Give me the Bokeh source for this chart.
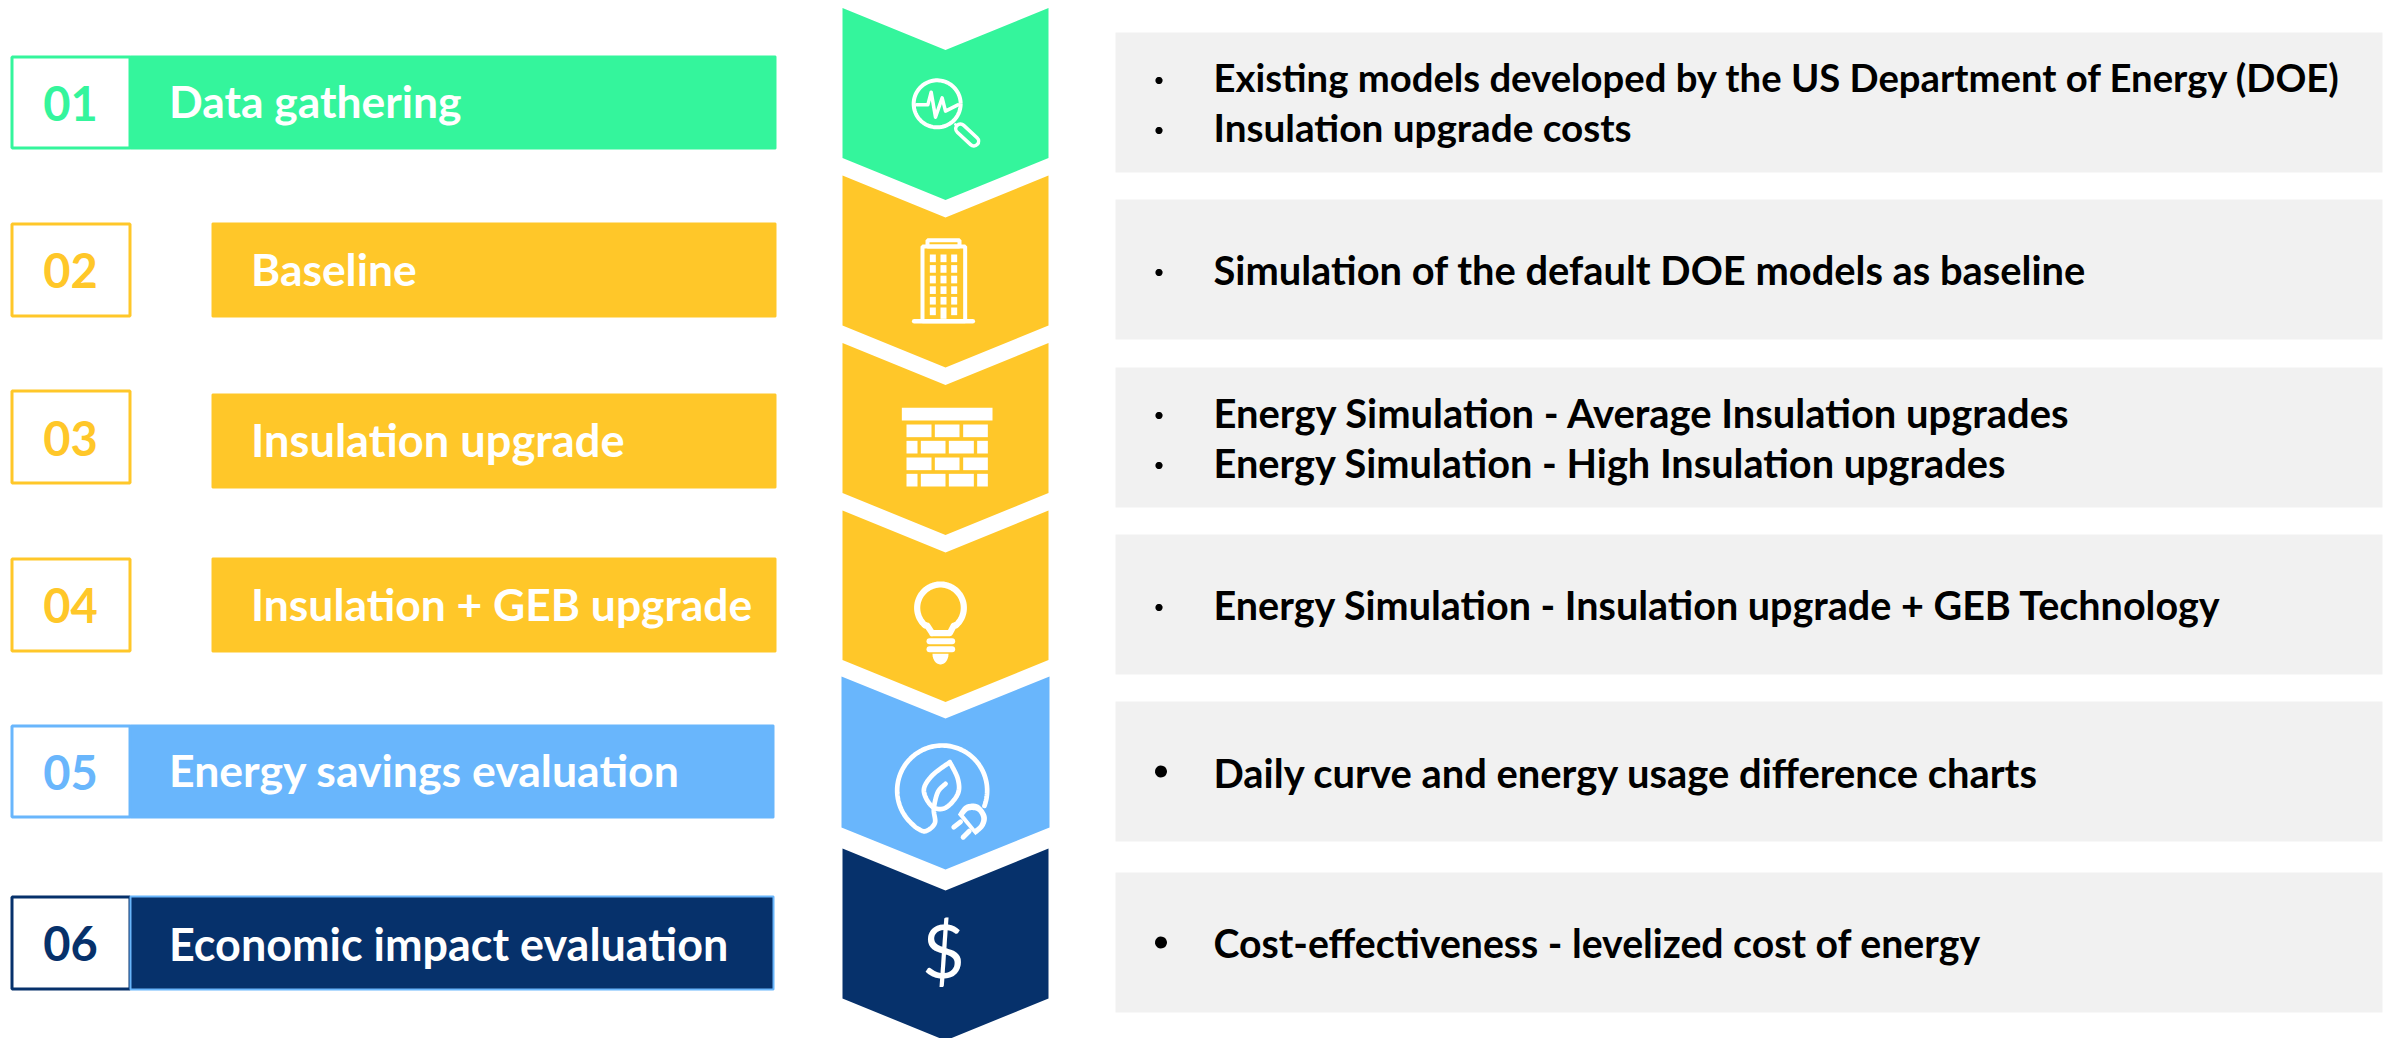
from bokeh.plotting import figure
from bokeh.embed import file_html
from bokeh.resources import INLINE
from bokeh.core.properties import value
from bokeh.models import Range1d
import numpy as np

# ---- content ----
step_numbers = ["01", "02", "03", "04", "05", "06"]
step_titles = ["Data gathering", "Baseline", "Insulation upgrade",
               "Insulation + GEB upgrade", "Energy savings evaluation",
               "Economic impact evaluation"]
step_details = [
    ["Existing models developed by the US Department of Energy (DOE)", "Insulation upgrade costs"],
    ["Simulation of the default DOE models as baseline"],
    ["Energy Simulation - Average Insulation upgrades", "Energy Simulation - High Insulation upgrades"],
    ["Energy Simulation - Insulation upgrade + GEB Technology"],
    ["Daily curve and energy usage difference charts"],
    ["Cost-effectiveness - levelized cost of energy"],
]

# ---- styles ----
GREEN, YELLOW, BLUE, NAVY, GREY = "#34F59C", "#FFC729", "#69B6FC", "#06316B", "#F1F1F1"
step_colors = [GREEN, YELLOW, YELLOW, YELLOW, BLUE, NAVY]
FONT = value("Lato")
W, H = 2397, 1038
BASE_FIX = 0.39
title_sizes = [44.4, 44.4, 45.2, 44.4, 44.6, 44.9]
detail_sizes = [[38.25, 38.7], [39.85], [39.9, 39.7], [39.5], [39.9], [39.2]]

p = figure(width=W, height=H, output_backend="svg", toolbar_location=None,
           x_range=Range1d(0, W), y_range=Range1d(H, 0),
           min_border=0, outline_line_color=None, background_fill_color="white")
p.axis.visible = False
p.grid.visible = False

def txt(x, y, s, size, color, style="bold", align="left"):
    p.text([x], [y - BASE_FIX * size], text=[s], text_font=FONT, text_font_size=f"{size}px",
           text_color=color, text_font_style=style, text_baseline="alphabetic", text_align=align)

# ---- left column ----
box_tops = [55, 222, 389, 557, 724, 895]
box_bottoms = [149, 317, 484, 652, 818, 990]
bar_tops = [55, 222, 393, 557, 724, 895]
bar_bottoms = [149, 317, 488, 652, 818, 990]
bar_lefts = [130, 212, 212, 212, 130, 130]
bar_rights = [775, 775, 775, 775, 773, 773]
title_x = [168.5, 250.5, 250.5, 250.5, 168.5, 168.5]
title_base = [117, 285, 457, 620, 786, 961]
num_base = [121.5, 288.5, 456.5, 623.5, 790.5, 961.5]
for i, n in enumerate(step_numbers):
    c = step_colors[i]
    p.quad(left=[11.5], right=[129.5], top=[box_tops[i] + 1.5], bottom=[box_bottoms[i] - 1.5],
           fill_color="white", line_color=c, line_width=3)
    lc = BLUE if i == 5 else c
    p.quad(left=[bar_lefts[i]], right=[bar_rights[i]], top=[bar_tops[i] + 1], bottom=[bar_bottoms[i] - 1],
           fill_color=c, line_color=lc, line_width=2)
    txt(70, num_base[i], n, 47, c, align="center")
    txt(title_x[i], title_base[i], step_titles[i], title_sizes[i], "white")

# ---- chevrons ----
chev_left = [842, 842, 842, 842, 841, 842]
chev_right = [1048, 1048, 1048, 1048, 1049, 1048]
chev_top = [7.5, 175, 342.5, 510, 676, 848]
chev_side = [157.5, 325, 492.5, 659.5, 827, 998]
CX = 945
for i in range(6):
    l, r, t, s = chev_left[i], chev_right[i], chev_top[i], chev_side[i]
    d = 42
    p.patch([l, CX, r, r, CX, l], [t, t + d, t, s, s + d, s], color=step_colors[i], line_width=0)

# ---- icons (white line work) ----
WH = "white"
def zx(v): return 820 + np.asarray(v, float) / 3
def zy(v, off): return off + np.asarray(v, float) / 3
def spline(pts, n=16):
    pts = np.asarray(pts, float)
    P = np.vstack([pts[0], pts, pts[-1]])
    out = []
    for k in range(1, len(P) - 2):
        for t in np.linspace(0, 1, n, endpoint=False):
            a = 2 * P[k] + (P[k + 1] - P[k - 1]) * t
            b = (2 * P[k - 1] - 5 * P[k] + 4 * P[k + 1] - P[k + 2]) * t * t
            c = (-P[k - 1] + 3 * P[k] - 3 * P[k + 1] + P[k + 2]) * t ** 3
            out.append(0.5 * (a + b + c))
    out.append(P[-2])
    return np.array(out)
def stroke(xs, ys, w, color=WH):
    p.line(xs, ys, line_color=color, line_width=w, line_cap="round", line_join="round")
def ring(cx, cy, r, w, color=WH):
    a = np.linspace(0, 2 * np.pi, 90)
    p.line(cx + r * np.cos(a), cy + r * np.sin(a), line_color=color, line_width=w)
def rect(x0, x1, y0, y1, off):
    p.quad(left=[zx(x0)], right=[zx(x1)], top=[zy(y0, off)], bottom=[zy(y1, off)], color=WH, line_width=0)

# 1 magnifier
ring(zx(350), zy(310, 0), 23.5, 4)
stroke(zx([288, 322, 332, 345, 365, 375, 412]), zy([313, 313, 275, 350, 292, 332, 313], 0), 3.5)
stroke(zx([405, 418]), zy([372, 384], 0), 3)
stroke(zx([420, 460]), zy([385, 422], 0), 13)
stroke(zx([420, 460]), zy([385, 422], 0), 6, GREEN)

# 2 building
p.quad(left=[zx(306)], right=[zx(434)], top=[zy(738, 0)], bottom=[zy(962, 0)], fill_color=None, line_color=WH, line_width=4)
p.quad(left=[zx(321)], right=[zx(417)], top=[zy(719, 0)], bottom=[zy(738, 0)], fill_color=None, line_color=WH, line_width=4)
stroke(zx([281, 457]), zy([962, 962], 0), 4.5)
for cl in (328, 360, 392):
    for rw in range(6):
        y0 = 762 + rw * 31.8
        rect(cl, cl + 18, y0, (955 if (cl == 360 and rw == 5) else y0 + 23), 0)

# 3 bricks
rect(244, 516, 202, 240, 340)
long_row = [(258, 333), (343, 417), (428, 502)]
short_row = [(258, 291), (301, 375), (385, 460), (470, 502)]
for y0, row in ((252, long_row), (301, short_row), (351, long_row), (400, short_row)):
    for a, b in row:
        rect(a, b, y0, y0 + 38, 340)

# 4 bulb
ang = np.radians(np.linspace(130, 410, 60))
ax = 360 + 70 * np.cos(ang); ay = 802 + 70 * np.sin(ang)
bx = np.concatenate([[335], [320], ax, [400], [388], [335]])
by = np.concatenate([[878], [855], ay, [855], [878], [878]])
stroke(zx(bx), zy(by, 340), 6.2)
stroke(zx([327, 395]), zy([902, 902], 340), 6)
stroke(zx([327, 395]), zy([926, 926], 340), 6)
a = np.radians(np.linspace(0, 180, 30))
p.patch(zx(360 + 24 * np.cos(a)), zy(940 + 32 * np.sin(a), 340), color=WH, line_width=0)

# 5 leaf and plug
a = np.radians(np.linspace(20, -228, 110))
arc_x = 365 + 135 * np.cos(a); arc_y = 330 + 135 * np.sin(a)
tail = spline([(arc_x[-1], arc_y[-1]), (290, 443), (315, 452), (343, 428), (340, 385), (352, 335), (375, 310)])
stroke(zx(np.r_[arc_x, tail[:, 0]]), zy(np.r_[arc_y, tail[:, 1]], 680), 4.7)
leaf = spline([(388, 245), (335, 285), (310, 330), (335, 378), (375, 382), (412, 340), (412, 295), (388, 245)])
stroke(zx(leaf[:, 0]), zy(leaf[:, 1], 680), 4.7)
plug = spline([(412, 402), (435, 374), (472, 372), (498, 405), (492, 438), (465, 464)])
plug = np.vstack([plug, plug[:1]])
p.patch(zx(plug[:, 0]), zy(plug[:, 1], 680), color=WH, line_width=0)
plug2 = spline([(430, 404), (445, 390), (470, 392), (482, 412), (477, 432), (463, 445)])
plug2 = np.vstack([plug2, plug2[:1]])
p.patch(zx(plug2[:, 0]), zy(plug2[:, 1], 680), color=BLUE, line_width=0)
stroke(zx([400, 420]), zy([440, 424], 680), 5)
stroke(zx([428, 446]), zy([470, 452], 680), 5)

# 6 dollar
txt(943, 978, "$", 74, WH, style="normal", align="center")

# ---- right column ----
panel_tops = [32, 199, 367, 534, 701, 872]
panel_h = 140
line_base = [[91, 142], [284.5], [427.5, 477], [619.5], [787.5], [957.5]]
bullet_base = [[91, 141], [283], [426, 476], [618], [786], [957]]
bullet_r = [3.6, 3.6, 3.6, 3.6, 6, 6]
bullet_x = [1158.5, 1158.5, 1158.5, 1158.5, 1160.5, 1160.5]
bullet_up = [11, 11, 11, 11, 15, 15]
p.quad(left=[1115] * 6, right=[2382] * 6, top=panel_tops,
       bottom=[t + panel_h for t in panel_tops], color=GREY, line_width=0)
for i, lines in enumerate(step_details):
    for j, s in enumerate(lines):
        txt(1213, line_base[i][j], s, detail_sizes[i][j], "black")
        a = np.linspace(0, 2 * np.pi, 24)
        p.patch(bullet_x[i] + bullet_r[i] * np.cos(a), bullet_base[i][j] - bullet_up[i] + bullet_r[i] * np.sin(a),
                color="black", line_width=0)

html = file_html(p, INLINE)
open("out.html", "w").write(html)
